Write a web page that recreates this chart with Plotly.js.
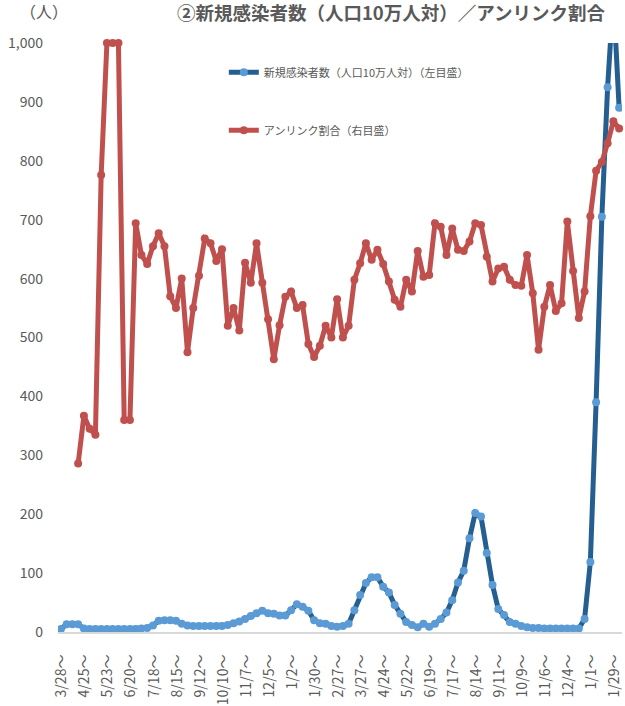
<!DOCTYPE html>
<html>
<head>
<meta charset="utf-8">
<script src="https://cdn.plot.ly/plotly-3.0.1.min.js"></script>
<style>
  html, body { margin: 0; padding: 0; overflow: hidden; background: #ffffff; }
  #chart { width: 625px; height: 706px; }
</style>
</head>
<body>
<div id="chart"></div>
<script>
// Weekly categories (week starting), 2020/3/28 – 2022/2/5
const weeks = [
  '2020/3/28','2020/4/4','2020/4/11','2020/4/18','2020/4/25','2020/5/2','2020/5/9','2020/5/16','2020/5/23','2020/5/30',
  '2020/6/6','2020/6/13','2020/6/20','2020/6/27','2020/7/4','2020/7/11','2020/7/18','2020/7/25','2020/8/1','2020/8/8',
  '2020/8/15','2020/8/22','2020/8/29','2020/9/5','2020/9/12','2020/9/19','2020/9/26','2020/10/3','2020/10/10','2020/10/17',
  '2020/10/24','2020/10/31','2020/11/7','2020/11/14','2020/11/21','2020/11/28','2020/12/5','2020/12/12','2020/12/19','2020/12/26',
  '2021/1/2','2021/1/9','2021/1/16','2021/1/23','2021/1/30','2021/2/6','2021/2/13','2021/2/20','2021/2/27','2021/3/6',
  '2021/3/13','2021/3/20','2021/3/27','2021/4/3','2021/4/10','2021/4/17','2021/4/24','2021/5/1','2021/5/8','2021/5/15',
  '2021/5/22','2021/5/29','2021/6/5','2021/6/12','2021/6/19','2021/6/26','2021/7/3','2021/7/10','2021/7/17','2021/7/24',
  '2021/7/31','2021/8/7','2021/8/14','2021/8/21','2021/8/28','2021/9/4','2021/9/11','2021/9/18','2021/9/25','2021/10/2',
  '2021/10/9','2021/10/16','2021/10/23','2021/10/30','2021/11/6','2021/11/13','2021/11/20','2021/11/27','2021/12/4','2021/12/11',
  '2021/12/18','2021/12/25','2022/1/1','2022/1/8','2022/1/15','2022/1/22','2022/1/29','2022/2/5'
];

// Axis labels shown every 4 weeks
const tickWeeks = [
  '2020/3/28','2020/4/25','2020/5/23','2020/6/20','2020/7/18','2020/8/15','2020/9/12','2020/10/10','2020/11/7','2020/12/5',
  '2021/1/2','2021/1/30','2021/2/27','2021/3/27','2021/4/24','2021/5/22','2021/6/19','2021/7/17','2021/8/14','2021/9/11',
  '2021/10/9','2021/11/6','2021/12/4','2022/1/1','2022/1/29'
];
const tickLabels = [
  '3/28～','4/25～','5/23～','6/20～','7/18～','8/15～','9/12～','10/10～','11/7～','12/5～',
  '1/2～','1/30～','2/27～','3/27～','4/24～','5/22～','6/19～','7/17～','8/14～','9/11～',
  '10/9～','11/6～','12/4～','1/1～','1/29～'
];

// New cases per 100k population (left axis)
const newCases = [
  5, 13, 13, 13, 6, 5, 5, 5, 5, 5,
  5, 5, 5, 5, 6, 7, 11, 19, 20, 20,
  19, 14, 11, 10, 10, 10, 10, 10, 10, 12,
  15, 18, 22, 27, 32, 36, 32, 31, 28, 28,
  37, 47, 43, 36, 20, 15, 14, 10, 9, 10,
  14, 37, 63, 83, 93, 93, 77, 67, 46, 31,
  17, 12, 8, 14, 9, 14, 22, 33, 54, 84,
  104, 159, 202, 196, 134, 80, 39, 29, 17, 14,
  10, 8, 7, 7, 6, 6, 6, 6, 6, 6,
  6, 22, 119, 390, 705, 925, 1080, 890
];

// Unlinked ratio, % (right axis)
const unlinkedPct = [
  null, null, null, 28.6, 36.7, 34.5, 33.5, 77.6, 100, 100,
  100, 36, 36, 69.4, 64, 62.5, 65.5, 67.7, 65.5, 57,
  55, 60, 47.5, 55, 60.5, 66.8, 66, 63, 65, 52,
  55, 51.2, 62.7, 59.3, 66, 59.3, 53.1, 46.3, 52.1, 56.9,
  57.8, 55, 55.5, 48.9, 46.7, 48.6, 52, 50, 56.5, 50,
  52, 59.8, 62.6, 66, 63.2, 64.9, 62.5, 59.5, 56.4, 55.2,
  59.8, 57.8, 64.7, 60.3, 60.6, 69.4, 68.8, 64, 68.5, 64.9,
  64.7, 66.3, 69.4, 69.1, 63.7, 59.5, 61.7, 62, 59.8, 58.9,
  58.8, 64, 57.5, 47.9, 55.2, 58.9, 54.5, 55.8, 69.7, 61.3,
  53.3, 57.8, 70.6, 78.3, 79.8, 83, 86.7, 85.5
];

const yTicks = [0, 100, 200, 300, 400, 500, 600, 700, 800, 900, 1000];

const FONT = '"Noto Sans CJK JP", "Noto Sans", sans-serif';
const GRAY = '#595959';

const traces = [
  {
    x: weeks, y: newCases, type: 'scatter', mode: 'lines+markers',
    name: '新規感染者数（人口10万人対）（左目盛）',
    legendgroup: 'a',
    line: { color: '#255E91', width: 5 },
    marker: { color: '#5B9BD5', size: 8 },
    cliponaxis: true,
    hoverinfo: 'skip'
  },
  {
    x: weeks, y: unlinkedPct, type: 'scatter', mode: 'lines+markers', yaxis: 'y2',
    name: 'アンリンク割合（右目盛）',
    legendgroup: 'b',
    line: { color: '#C0504D', width: 5 },
    marker: { color: '#C0504D', size: 8 },
    connectgaps: false,
    cliponaxis: false,
    hoverinfo: 'skip'
  }
];

const layout = {
  width: 625, height: 706,
  margin: { l: 58, r: 3, t: 43, b: 74, pad: 0 },
  paper_bgcolor: '#ffffff', plot_bgcolor: '#ffffff',
  font: { family: FONT, color: GRAY },
  title: {
    text: '<b>②新規感染者数（人口10万人対）／アンリンク割合</b>',
    font: { family: FONT, size: 18.5, color: GRAY },
    xref: 'container', x: 391 / 625, xanchor: 'center',
    yref: 'container', y: 1 - 14 / 706, yanchor: 'middle'
  },
  showlegend: true,
  legend: {
    x: 0.294, xanchor: 'left', y: 0.975, yanchor: 'top',
    font: { family: FONT, size: 11, color: GRAY },
    bgcolor: 'rgba(0,0,0,0)', borderwidth: 0,
    traceorder: 'grouped', tracegroupgap: 39
  },
  xaxis: {
    type: 'category',
    range: [-0.5, 97.5],
    tickmode: 'array', tickvals: tickWeeks, ticktext: tickLabels,
    tickangle: -90,
    tickfont: { family: FONT, size: 14, color: GRAY },
    ticks: '', ticklabelstandoff: 15, ticklabelshift: 1,
    showgrid: false, zeroline: false,
    showline: true, linecolor: '#d9d9d9', linewidth: 2
  },
  yaxis: {
    range: [0, 1000],
    tickmode: 'array', tickvals: yTicks,
    tickformat: ',d',
    tickfont: { family: FONT, size: 14, color: GRAY },
    ticks: '', ticklabelstandoff: 14,
    showgrid: false, zeroline: false, showline: false
  },
  yaxis2: {
    overlaying: 'y', side: 'right', range: [0, 100],
    visible: false, showgrid: false, zeroline: false
  },
  annotations: [
    {
      text: '（人）', xref: 'paper', yref: 'paper',
      x: (44 - 58) / 564, y: (632 - 11) / 589,
      xanchor: 'center', yanchor: 'middle', showarrow: false,
      font: { family: FONT, size: 16, color: GRAY }
    }
  ]
};

Plotly.newPlot('chart', traces, layout, { displayModeBar: false, staticPlot: true });
</script>
</body>
</html>
